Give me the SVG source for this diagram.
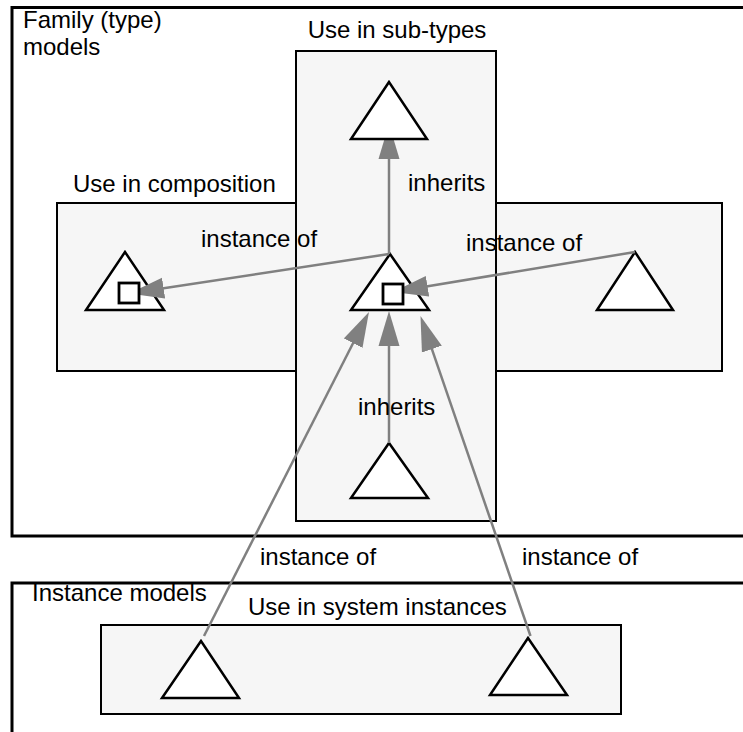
<svg xmlns="http://www.w3.org/2000/svg" width="743" height="732" viewBox="0 0 743 732">
  <style>
    .frame { fill: none; stroke: #000; stroke-width: 3; }
    .box { fill: #f6f6f6; stroke: #000; stroke-width: 2; }
    .tri { fill: #fff; stroke: #000; stroke-width: 2.5; stroke-linejoin: miter; }
    .port { fill: #fff; stroke: #000; stroke-width: 2.8; }
    .edge { fill: none; stroke: #808080; stroke-width: 2.5; marker-end: url(#head); }
    text { font-family: "Liberation Sans", Arial, Helvetica, sans-serif; font-size: 24px; fill: #000; }
  </style>
  <defs>
    <!-- filled arrowhead: 35 long, 21 wide; line ends 20px before the tip -->
    <marker id="head" markerUnits="userSpaceOnUse" viewBox="0 -11 36 22" refX="15" refY="0" markerWidth="36" markerHeight="22" orient="auto">
      <path d="M0,-10.5 L35,0 L0,10.5 z" fill="#808080"/>
    </marker>
  </defs>

  <!-- model frames -->
  <g id="family-models">
    <rect class="frame" x="12" y="7.5" width="760" height="528.5"/>
    <text x="23" y="28">Family (type)</text>
    <text x="23" y="55">models</text>
  </g>
  <g id="instance-models">
    <rect class="frame" x="12" y="583" width="760" height="200"/>
    <text x="32" y="601">Instance models</text>
  </g>

  <!-- usage areas -->
  <g id="composition-area">
    <rect class="box" x="57" y="203" width="665" height="168"/>
    <text x="73" y="192">Use in composition</text>
  </g>
  <g id="subtypes-area">
    <rect class="box" x="296" y="51" width="200" height="470"/>
    <text x="397" y="38" text-anchor="middle">Use in sub-types</text>
  </g>
  <g id="system-instances-area">
    <rect class="box" x="101" y="625" width="520" height="89"/>
    <text x="248" y="615">Use in system instances</text>
  </g>

  <!-- model nodes -->
  <g id="type-center"><polygon class="tri" points="390,254 351,310 429,310"/></g>
  <g id="composite-left"><polygon class="tri" points="125,252 86,310 164,310"/></g>
  <g id="composite-right"><polygon class="tri" points="635,252 597,310 673,310"/></g>
  <g id="subtype-lower"><polygon class="tri" points="389,443 351,498 428,498"/></g>
  <g id="instance-left"><polygon class="tri" points="201,641 162,698 239,698"/></g>
  <g id="instance-right"><polygon class="tri" points="528,638 490,695 567,695"/></g>

  <!-- connectors -->
  <g id="connectors">
    <line class="edge" x1="389" y1="254" x2="389" y2="144"/>
    <line class="edge" x1="389" y1="254" x2="148.8" y2="290.5"/>
    <line class="edge" x1="635" y1="252" x2="412.7" y2="288.7"/>
    <line class="edge" x1="389" y1="443" x2="389" y2="331"/>
    <line class="edge" x1="204" y1="636" x2="359.9" y2="329.8"/>
    <line class="edge" x1="530.5" y1="636" x2="427" y2="334.9"/>
    <text x="408" y="191">inherits</text>
    <text x="201" y="247">instance of</text>
    <text x="466" y="251">instance of</text>
    <text x="358" y="415">inherits</text>
    <text x="260" y="565">instance of</text>
    <text x="522" y="565">instance of</text>
  </g>

  <!-- nodes drawn over arrow tips -->
  <g id="subtype-upper"><polygon class="tri" points="389,82 351,139 427,139"/></g>
  <g id="type-center-port"><rect class="port" x="383" y="284" width="20" height="20"/></g>
  <g id="composite-left-port"><rect class="port" x="119" y="283" width="20" height="20"/></g>
</svg>
